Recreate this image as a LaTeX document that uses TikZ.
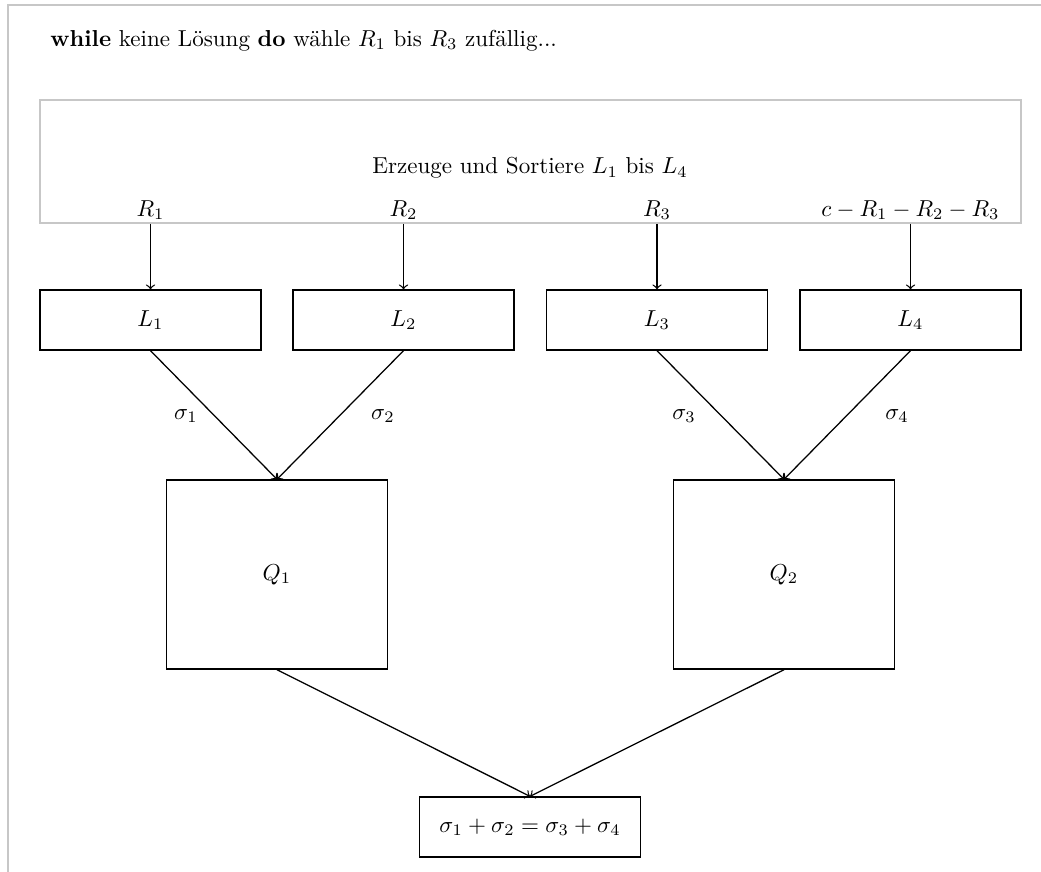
\documentclass[tikz,border=0pt]{standalone}
\begin{document}
\begin{tikzpicture}[x=0.4336pt,y=-0.4336pt,
  box/.style={draw, line width=0.55pt, inner sep=0pt, minimum width=95.8pt, minimum height=26.05pt},
  qbox/.style={box, minimum height=82pt},
  frame/.style={draw=black!22, line width=0.6pt},
  conn/.style={->, line width=0.55pt},
  lab/.style={inner sep=1pt}]
\useasboundingbox (0,0) rectangle (1041,871);
\clip (0,0) rectangle (1041,871);
% outer page frame, running past the right and bottom edges
\draw[frame] (8,5) rectangle (1080,900);
% headline
\node[anchor=base west, inner sep=0pt] (title) at (50,46)
  {\textbf{while} keine Lösung \textbf{do} wähle $R_1$ bis $R_3$ zufällig...};
% generator box with its outputs
\node[frame, inner sep=0pt, minimum width=425.4pt, minimum height=53.4pt] (gen) at (530.5,161.5) {};
\node (gentext) at (530,168) {Erzeuge und Sortiere $L_1$ bis $L_4$};
\node[anchor=base, lab] (r1) at (150.5,216) {$R_1$};
\node[anchor=base, lab] (r2) at (403.5,216) {$R_2$};
\node[anchor=base, lab] (r3) at (657,216) {$R_3$};
\node[anchor=base, lab] (r4) at (910.5,216) {$c-R_1-R_2-R_3$};
% lists
\node[box] (l1) at (150.5,320) {$L_1$};
\node[box] (l2) at (403.5,320) {$L_2$};
\node[box] (l3) at (657,320) {$L_3$};
\node[box] (l4) at (910.5,320) {$L_4$};
\draw[conn] (r1.south |- gen.south) -- (l1);
\draw[conn] (r2.south |- gen.south) -- (l2);
\draw[conn] (r3.south |- gen.south) -- (l3);
\draw[conn] (r4.south |- gen.south) -- (l4);
% merged lists
\node[qbox] (q1) at (277,574.5) {$Q_1$};
\node[qbox] (q2) at (784,574.5) {$Q_2$};
\draw[conn] (l1.south) -- (q1.north);
\draw[conn] (l2.south) -- (q1.north);
\draw[conn] (l3.south) -- (q2.north);
\draw[conn] (l4.south) -- (q2.north);
\node (s1) at (186,416) {$\sigma_1$};
\node (s2) at (383,416) {$\sigma_2$};
\node (s3) at (684,416) {$\sigma_3$};
\node (s4) at (897,416) {$\sigma_4$};
% final condition
\node[box] (res) at (530,827) {$\sigma_1+\sigma_2=\sigma_3+\sigma_4$};
\draw[conn] (q1.south) -- (res.north);
\draw[conn] (q2.south) -- (res.north);
\end{tikzpicture}
\end{document}
